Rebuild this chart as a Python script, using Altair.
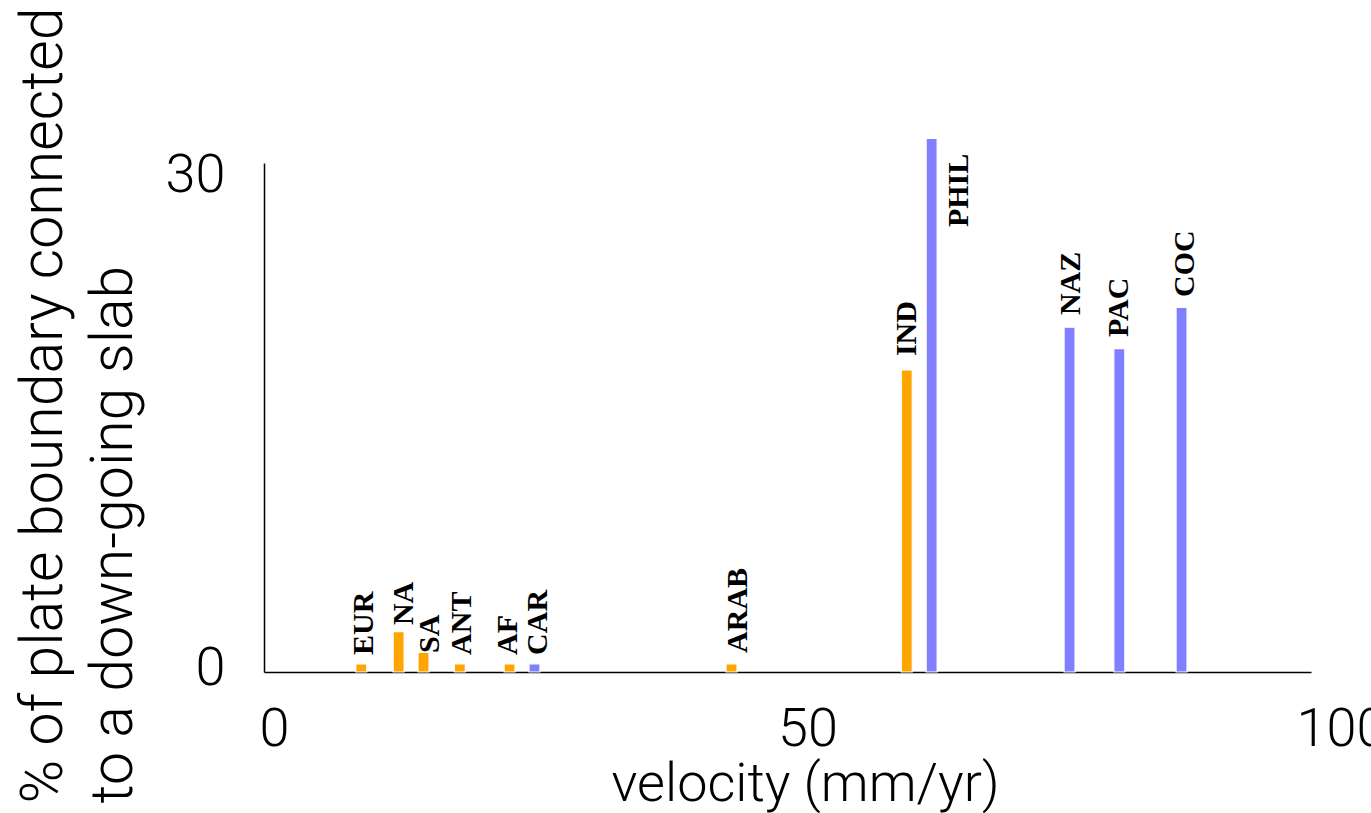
import altair as alt
import pandas as pd

plates = ["EUR", "NA", "SA", "ANT", "AF", "CAR", "ARAB", "IND", "PHIL", "NAZ", "PAC", "COC"]
velocity = [8.9, 12.5, 14.9, 18.4, 23.2, 25.6, 44.6, 61.5, 63.9, 77.2, 82.0, 88.0]
percent = [0.5, 2.45, 1.2, 0.5, 0.5, 0.5, 0.5, 18.4, 32.5, 21.0, 19.7, 22.2]
group = ["continental", "continental", "continental", "continental", "continental", "oceanic",
         "continental", "continental", "oceanic", "oceanic", "oceanic", "oceanic"]
label_x = [9.17, 12.99, 15.57, 18.62, 23.02, 25.98, 45.18, 61.56, 66.52, 77.36, 81.95, 88.35]
label_y = [1.04, 2.86, 1.16, 1.04, 1.04, 1.04, 1.16, 19.24, 27.1, 21.74, 20.4, 22.84]

x_ticks = [0, 50, 100]
y_ticks = [0, 30]

df = pd.DataFrame({
    "plate": plates,
    "velocity": velocity,
    "percent": percent,
    "group": group,
    "label_x": label_x,
    "label_y": label_y,
})

AX_FONT = "Roboto"

x_scale = alt.Scale(domain=[0, 100], nice=False, zero=False)
y_scale = alt.Scale(domain=[0, 31], nice=False)

x_axis = alt.Axis(
    values=x_ticks, ticks=False, grid=False,
    domainColor="black", domainWidth=1.5,
    labelFont=AX_FONT, labelFontWeight=300, labelFontSize=54, labelColor="black",
    labelAlign="left", labelOffset=-10, labelBaseline="top", labelPadding=30,
    labelFlush=False, labelOverlap=False, labelBound=False,
    title="velocity (mm/yr)", titleFont=AX_FONT, titleFontWeight=300, titleFontSize=54,
    titleColor="black", titleX=541, titleY=128, titleAlign="center", titleBaseline="alphabetic",
)
y_axis = alt.Axis(
    values=y_ticks, ticks=False, grid=False,
    domainColor="black", domainWidth=1.5,
    labelFont=AX_FONT, labelFontWeight=300, labelFontSize=54, labelColor="black",
    labelAlign="right", labelBaseline="middle", labelPadding=39, labelOffset=-4,
    labelFlush=False, labelOverlap=False, labelBound=False,
    title=["% of plate boundary connected", "to a down-going slab"],
    titleFont=AX_FONT, titleFontWeight=300, titleFontSize=59, titleColor="black",
    titleAngle=270, titleAlign="left", titleBaseline="alphabetic",
    titleX=-203, titleY=640, titleLineHeight=70,
)

base = alt.Chart(df)
bars = base.mark_bar(size=11, stroke="white", strokeWidth=1.2).encode(
    x=alt.X("velocity:Q", scale=x_scale, axis=x_axis),
    y=alt.Y("percent:Q", scale=y_scale, axis=y_axis),
    color=alt.Color("group:N", scale=alt.Scale(domain=["continental", "oceanic"],
                                              range=["#FFA500", "#7F7FFF"]), legend=None),
)
labels = base.mark_text(angle=270, align="left", baseline="middle",
                        font="Liberation Serif", fontSize=30, fontWeight="bold",
                        color="black").encode(
    x=alt.X("label_x:Q", scale=x_scale),
    y=alt.Y("label_y:Q", scale=y_scale),
    text="plate:N",
)

chart = alt.layer(bars, labels).properties(
    width=1047, height=509,
    padding={"left": 264, "top": 163, "right": 60, "bottom": 141},
    autosize=alt.AutoSizeParams(type="none"),
    background="white",
).configure_view(stroke=None)

chart.save("out.html", embed_options={"renderer": "svg", "actions": False})
